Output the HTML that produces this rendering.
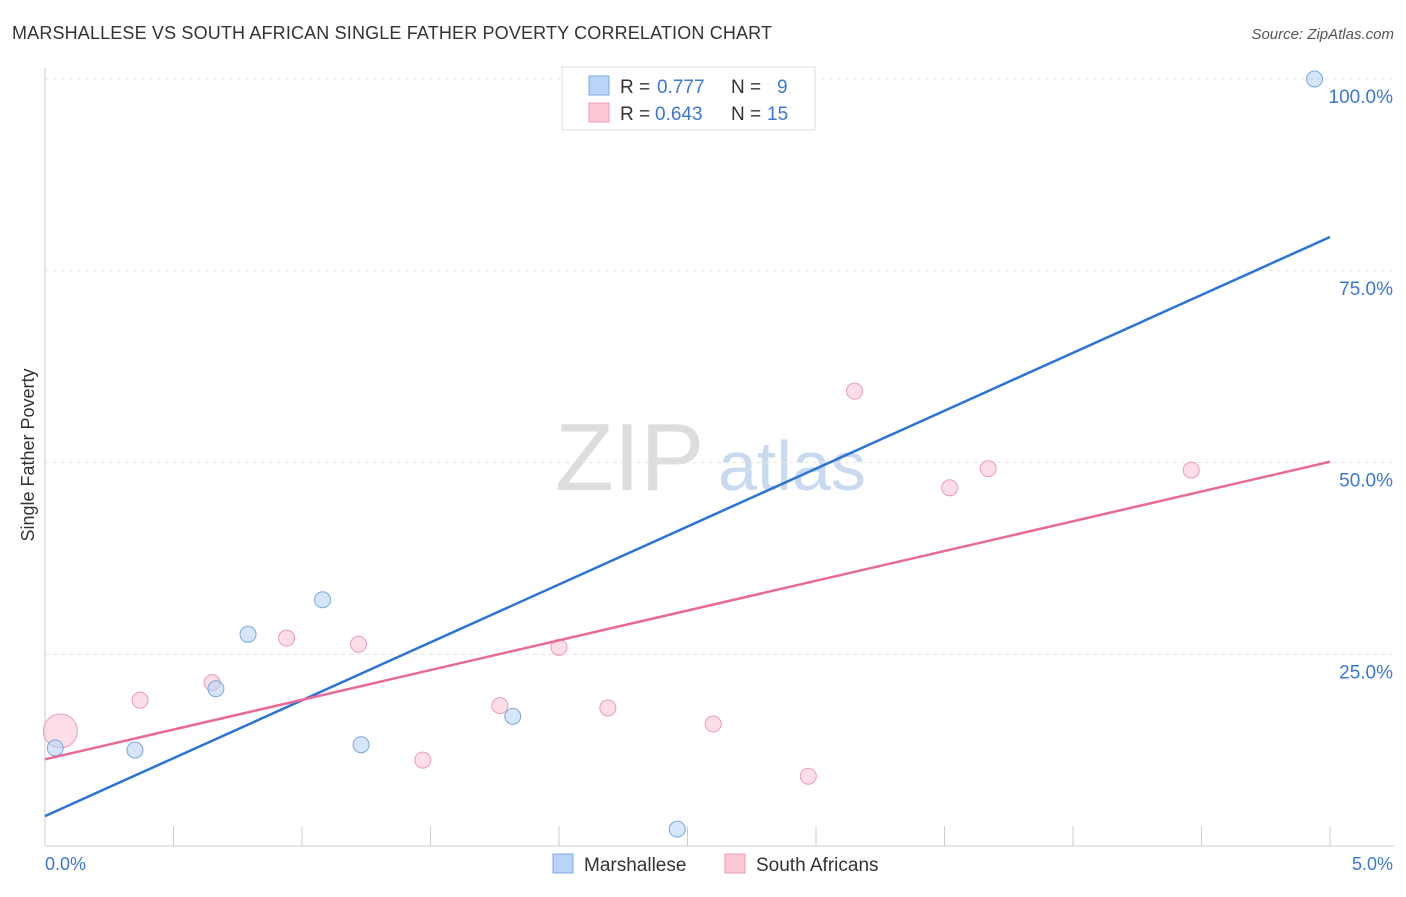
<!DOCTYPE html>
<html><head><meta charset="utf-8"><style>
body{margin:0;background:#fff;font-family:"Liberation Sans",sans-serif;}
svg text{font-family:"Liberation Sans",sans-serif;}
</style></head><body>
<svg id="c" width="1406" height="892" xmlns="http://www.w3.org/2000/svg">
<text x="12" y="39" font-size="18" fill="#333" textLength="760">MARSHALLESE VS SOUTH AFRICAN SINGLE FATHER POVERTY CORRELATION CHART</text>
<text x="1394" y="39" font-size="15" fill="#555" text-anchor="end" font-style="italic">Source: ZipAtlas.com</text>
<text x="555" y="490" font-size="96" fill="#ddd" font-family="Liberation Serif">ZIP</text>
<text x="718" y="490" font-size="70" fill="#c9d9f0">atlas</text>
<text x="34" y="455" font-size="18" fill="#333" text-anchor="middle" transform="rotate(-90 34 455)">Single Father Poverty</text>
<g id="axes"></g><g id="marks"></g>
<g>
<rect x="562" y="67" width="253" height="63" fill="#fff" stroke="#ddd"/>
<rect x="589" y="76" width="20" height="19" fill="#b9d4f7" stroke="#7aa7e6"/>
<rect x="589" y="103" width="20" height="19" fill="#fbc8d6" stroke="#ef9ab3"/>
<text x="620" y="93" font-size="19" fill="#333">R =</text>
<text x="657" y="93" font-size="19" fill="#3a78d6">0.777</text>
<text x="731" y="93" font-size="19" fill="#333">N =</text>
<text x="777" y="93" font-size="19" fill="#3a78d6">9</text>
<text x="620" y="120" font-size="19" fill="#333">R =</text>
<text x="655" y="120" font-size="19" fill="#3a78d6">0.643</text>
<text x="731" y="120" font-size="19" fill="#333">N =</text>
<text x="767" y="120" font-size="19" fill="#3a78d6">15</text>
</g>
<g>
<rect x="553" y="854" width="20" height="19" fill="#b9d4f7" stroke="#7aa7e6"/>
<text x="584" y="871" font-size="19" fill="#333">Marshallese</text>
<rect x="725" y="854" width="20" height="19" fill="#fbc8d6" stroke="#ef9ab3"/>
<text x="756" y="871" font-size="19" fill="#333">South Africans</text>
</g>
</svg>
<script>
const yTicks=[25,50,75,100];
const yTickLabels=["25.0%","50.0%","75.0%","100.0%"];
const blueX=[0.04,0.35,0.665,0.79,1.08,1.23,1.82,2.46,4.94];
const blueY=[12.8,12.5,20.5,27.6,32.1,13.2,16.9,2.2,100];
const pinkX=[0.06,0.37,0.65,0.94,1.22,1.47,1.77,2.0,2.19,2.6,2.97,3.15,3.52,3.67,4.46];
const pinkY=[15,19,21.3,27.1,26.3,11.2,18.3,25.9,18,15.9,9.1,59.3,46.7,49.2,49.0];
const pinkR=[17,8,8,8,8,8,8,8,8,8,8,8,8,8,8];
const blueLine=[3.9,79.4];
const pinkLine=[11.3,50.1];
const xs=v=>45+v/5*1285, ys=v=>846-v/100*767;
const NS="http://www.w3.org/2000/svg";
function mk(t,a,p){const e=document.createElementNS(NS,t);for(const k in a)e.setAttribute(k,a[k]);p.appendChild(e);return e;}
const ax=document.getElementById('axes'), mg=document.getElementById('marks');
let l=mk('line',{x1:45,y1:68,x2:45,y2:846,stroke:'#ccc'},ax);

l=mk('line',{x1:45,y1:846,x2:1394,y2:846,stroke:'#ccc'},ax);

for(let i=0;i<=10;i++){const t=mk('line',{x1:xs(i*0.5),y1:826,x2:xs(i*0.5),y2:846,stroke:'#ccc'},ax);
}
yTicks.forEach((v,i)=>{const g=mk('line',{x1:45,y1:ys(v),x2:1394,y2:ys(v),stroke:'#e4e4e4','stroke-dasharray':'4 4'},ax);

const t=mk('text',{x:1393,y:ys(v)+24,'font-size':19,fill:'#3a78d6','text-anchor':'end'},ax);t.textContent=yTickLabels[i];
});
let t=mk('text',{x:45,y:870,'font-size':18,fill:'#3a78d6'},ax);t.textContent='0.0%';

t=mk('text',{x:1393,y:870,'font-size':18,fill:'#3a78d6','text-anchor':'end'},ax);t.textContent='5.0%';

pinkX.forEach((x,i)=>{const c=mk('circle',{cx:xs(x),cy:ys(pinkY[i]),r:pinkR[i],fill:'#fbc8d6','fill-opacity':0.6,stroke:'#ef9ab3'},mg);
});
blueX.forEach((x,i)=>{const c=mk('circle',{cx:xs(x),cy:ys(blueY[i]),r:8,fill:'#b9d4f7','fill-opacity':0.6,stroke:'#7aa7e6'},mg);
});
l=mk('line',{x1:xs(0),y1:ys(blueLine[0]),x2:xs(5),y2:ys(blueLine[1]),stroke:'#2a74d8','stroke-width':2.5},mg);

l=mk('line',{x1:xs(0),y1:ys(pinkLine[0]),x2:xs(5),y2:ys(pinkLine[1]),stroke:'#e86a95','stroke-width':2.5},mg);

</script>
</body></html>
